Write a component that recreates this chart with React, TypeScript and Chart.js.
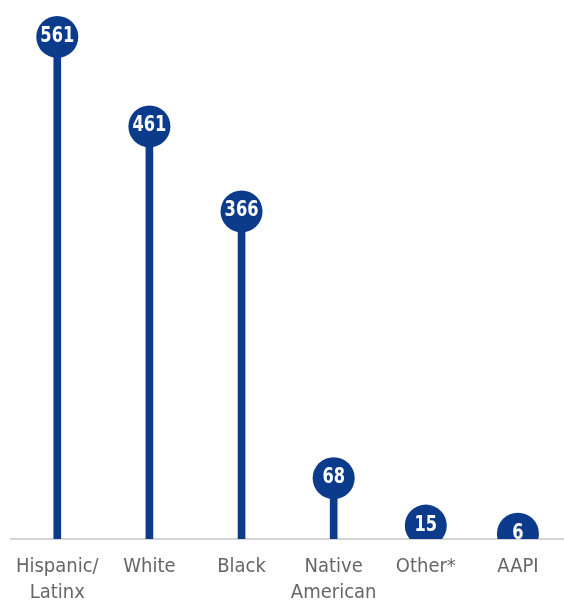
import React, { useEffect, useRef } from "react";
import { Chart, registerables } from "chart.js";

Chart.register(...registerables);

const categories: (string | string[])[] = [
  ["Hispanic/", "Latinx"],
  "White",
  "Black",
  ["Native", "American"],
  "Other*",
  "AAPI",
];
const values: number[] = [561, 461, 366, 68, 15, 6];
const valueLabels: string[] = ["561", "461", "366", "68", "15", "6"];

const NAVY = "#0c3b8b";
const FONT = "'DejaVu Sans Condensed', 'Liberation Sans', sans-serif";

const labelPlugin = {
  id: "lollipopLabels",
  afterDatasetsDraw(chart: any) {
    const meta = chart.getDatasetMeta(1);
    const ctx = chart.ctx;
    ctx.save();
    ctx.fillStyle = "#ffffff";
    ctx.font = `bold 22px ${FONT}`;
    ctx.textAlign = "center";
    ctx.textBaseline = "alphabetic";
    meta.data.forEach((pt: any, i: number) => {
      ctx.save();
      ctx.translate(pt.x, pt.y + 5);
      ctx.scale(0.82, 1);
      ctx.fillText(valueLabels[i], 0, 0);
      ctx.restore();
    });
    ctx.restore();
  },
};

export default function App() {
  const ref = useRef<HTMLCanvasElement | null>(null);
  useEffect(() => {
    if (!ref.current) return;
    const chart = new Chart(ref.current, {
      type: "bar",
      data: {
        labels: categories as any,
        datasets: [
          {
            type: "bar",
            data: values,
            backgroundColor: NAVY,
            barThickness: 7,
            order: 2,
          } as any,
          {
            type: "line",
            data: values,
            showLine: false,
            pointRadius: 21,
            pointHoverRadius: 21,
            pointBackgroundColor: NAVY,
            pointBorderWidth: 0,
            borderWidth: 0,
            order: 1,
            clip: { left: false, top: false, right: false, bottom: 0 },
          } as any,
        ],
      },
      options: {
        animation: false,
        responsive: true,
        maintainAspectRatio: false,
        layout: { autoPadding: false, padding: { left: 11, right: 0, top: 2, bottom: 0 } },
        plugins: {
          legend: { display: false },
          tooltip: { enabled: false },
        },
        scales: {
          x: {
            type: "category",
            offset: true,
            grid: { display: false, drawTicks: false },
            border: { display: true, color: "#d4d4d4", width: 2 },
            afterFit: (scale: any) => {
              scale.height = 74;
            },
            ticks: {
              color: "#666666",
              padding: 15,
              maxRotation: 0,
              autoSkip: false,
              font: { family: FONT, size: 20, weight: "normal", lineHeight: 1.3 },
            },
          },
          y: {
            display: false,
            min: 0,
            max: 600,
          },
        },
      },
      plugins: [labelPlugin],
    });
    return () => chart.destroy();
  }, []);
  return (
    <div style={{ position: "fixed", left: 0, top: 0, width: 564, height: 613, background: "#fff" }}>
      <canvas ref={ref} />
    </div>
  );
}
